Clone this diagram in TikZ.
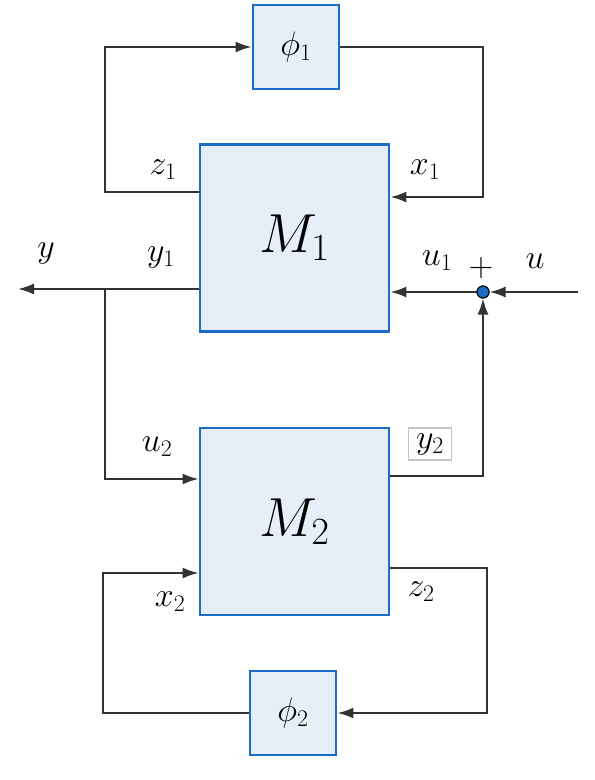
\documentclass[tikz,border=0pt]{standalone}
\usepackage{fix-cm}
\usetikzlibrary{arrows.meta}
\definecolor{blockblue}{HTML}{1A6CC6}
\definecolor{blockfill}{HTML}{E6EEF8}
\definecolor{wiregray}{HTML}{333333}
\definecolor{tagframe}{HTML}{C4C4C4}
\begin{document}
\begin{tikzpicture}[
		x=1pt, y=-1pt,
		block/.style={draw=blockblue, fill=blockfill, line width=2.8pt, inner sep=0pt},
		bigblock/.style={block, minimum width=189pt, minimum height=187pt, font=\fontsize{55}{64}\selectfont},
		smallblock/.style={block, minimum width=86pt, minimum height=84pt, font=\fontsize{34}{40}\selectfont},
		wire/.style={draw=wiregray, line width=2pt},
		arrowwire/.style={wire, -{Latex[length=16pt,width=11pt]}},
		lbl/.style={font=\fontsize{34}{40}\selectfont, inner sep=0pt},
		sumnode/.style={circle, draw=black, fill=blockblue, line width=1pt, minimum size=12pt, inner sep=0pt}
	]
	\useasboundingbox (0,0) rectangle (595,780);
	\node[smallblock] (phi1) at (296,47) {$\phi_1$};
	\node[bigblock] (M1) at (294.5,238) {$M_1$};
	\node[bigblock] (M2) at (294.5,521.5) {$M_2$};
	\node[smallblock] (phi2) at (293,713) {$\phi_2$};
	\node[sumnode] (sum) at (483,292) {};
	\coordinate (uin) at (578,292);
	\coordinate (yout) at (18,289);
	\coordinate (split) at (105,289);

	\draw[arrowwire] ([yshift=46pt]M1.west) -| (105,47) -- (phi1.west);
	\draw[arrowwire] (phi1.east) -| (483,197) -- ([yshift=41pt]M1.east);
	\draw[arrowwire] ([yshift=-51pt]M1.west) -- (yout);
	\draw[arrowwire] (split) |- ([yshift=42.5pt]M2.west);
	\draw[arrowwire] (uin) -- (sum);
	\draw[arrowwire] (sum) -- (M1.east |- sum);
	\draw[arrowwire] ([yshift=45.5pt]M2.east) -| (sum.south);
	\draw[arrowwire] ([yshift=-46.5pt]M2.east) -| (487,713) -- (phi2.east);
	\draw[arrowwire] (phi2.west) -| (103,573) -- ([yshift=-51.5pt]M2.west);
	\node[sumnode] at (sum) {};

	\node[lbl] (z1) at (163,170) {$z_1$};
	\node[lbl] (x1) at (425,170) {$x_1$};
	\node[lbl] (ylab) at (46,253) {$y$};
	\node[lbl] (y1) at (161,257) {$y_1$};
	\node[lbl] (u1) at (437,261) {$u_1$};
	\node[lbl] (plus) at (481,268) {$+$};
	\node[lbl] (ulab) at (535,261) {$u$};
	\node[lbl] (u2) at (157,447) {$u_2$};
	\node[lbl, draw=tagframe, line width=1.5pt, minimum width=43pt, minimum height=32pt] (y2) at (430,444) {$y_2$};
	\node[lbl] (x2) at (170,602) {$x_2$};
	\node[lbl] (z2) at (421,592) {$z_2$};
\end{tikzpicture}
\end{document}
